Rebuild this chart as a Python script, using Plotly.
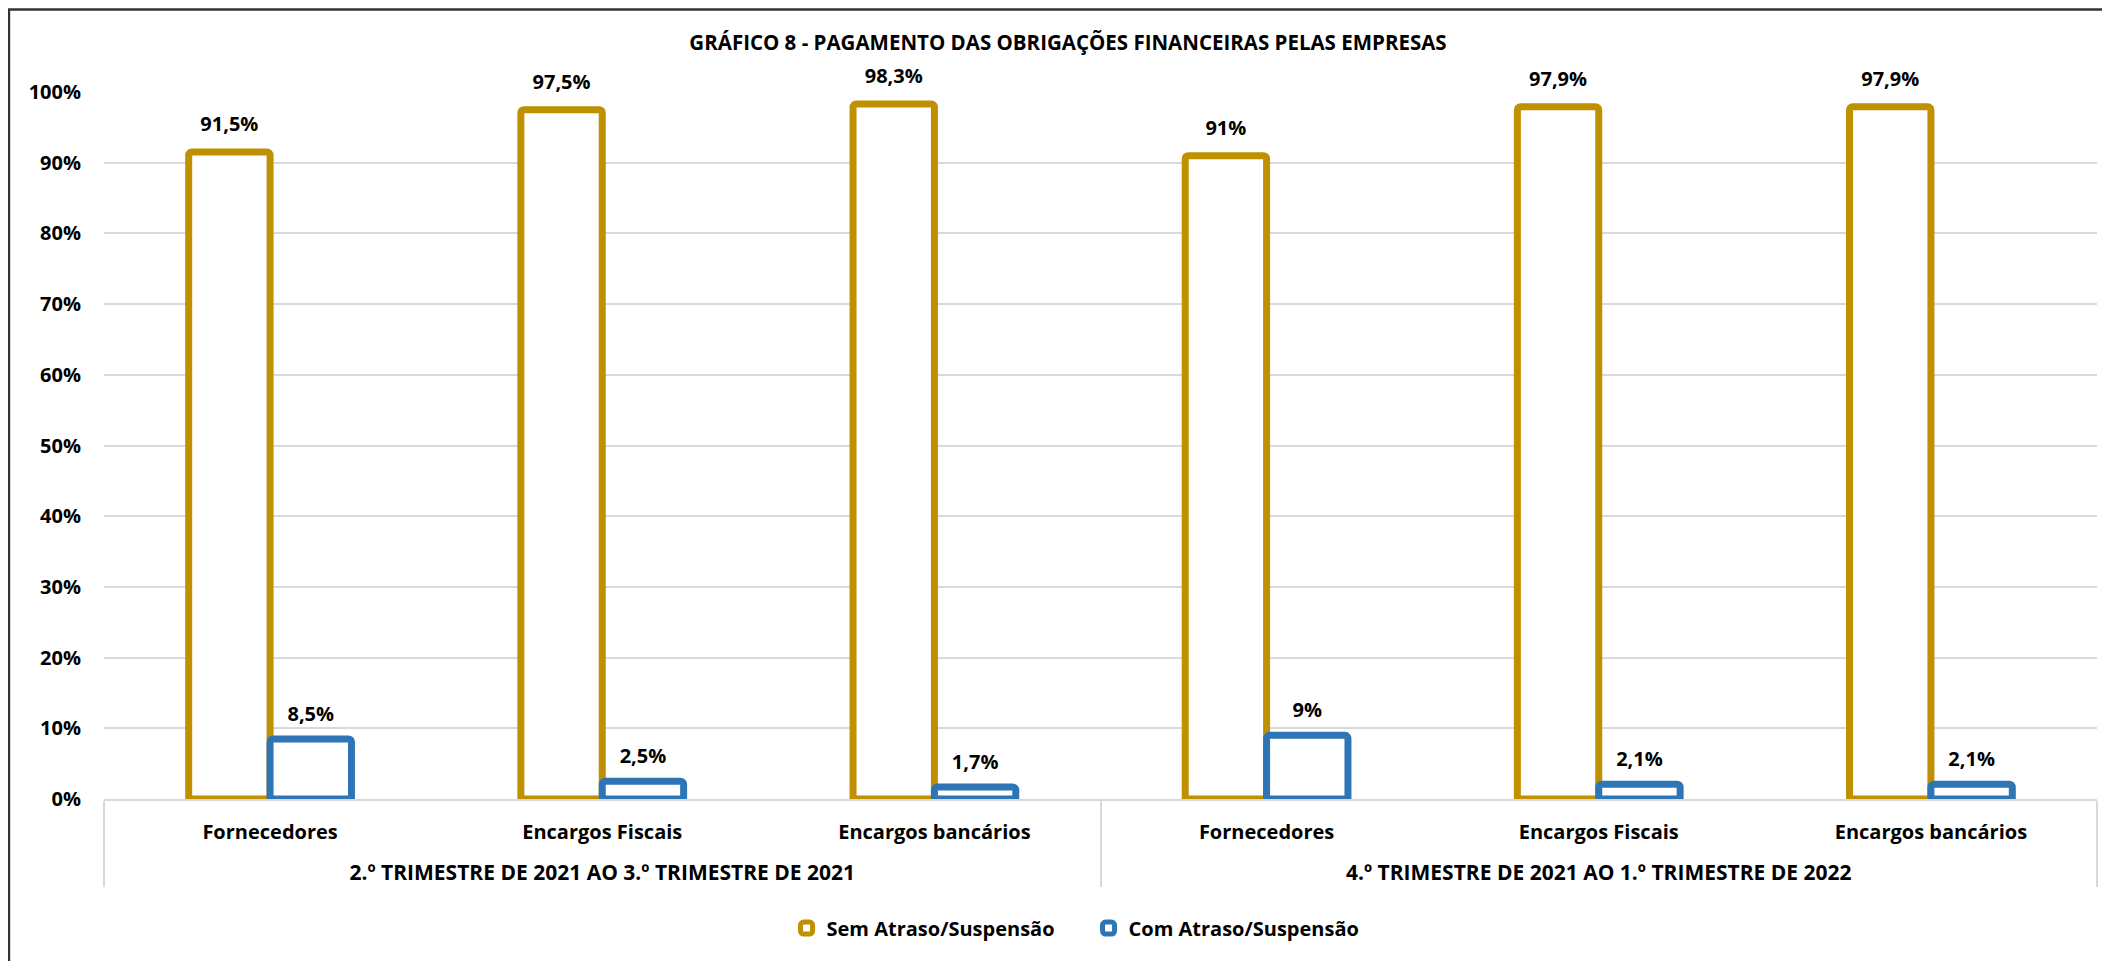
import plotly.graph_objects as go

# periods (outer level) and obligations (inner level)
periods = ["2.º TRIMESTRE DE 2021 AO 3.º TRIMESTRE DE 2021"] * 3 + \
          ["4.º TRIMESTRE DE 2021 AO 1.º TRIMESTRE DE 2022"] * 3
obligations = ["Fornecedores", "Encargos Fiscais", "Encargos bancários"] * 2

sem_atraso = [91.5, 97.5, 98.3, 91, 97.9, 97.9]
com_atraso = [8.5, 2.5, 1.7, 9, 2.1, 2.1]

series_names = ["Sem Atraso/Suspensão", "Com Atraso/Suspensão"]
y_ticks = list(range(0, 101, 10))

title_text = "GRÁFICO 8 - PAGAMENTO DAS OBRIGAÇÕES FINANCEIRAS PELAS EMPRESAS"

FONT = "'Open Sans', Lato, sans-serif"
FSIZE = 20
GOLD = "#BF9000"
BLUE = "#2E75B6"


def pct_label(v):
    # portuguese style: comma decimal, no trailing zero
    return f"{v:g}".replace(".", ",") + "%"


bold = dict(family=FONT, size=FSIZE, color="black", weight="bold")

# outer level pushed one line lower (and a bit larger) so it clears the inner labels
x_levels = [["<br><span style='font-size:21px'>" + p + "</span>" for p in periods],
            obligations]

fig = go.Figure()

series = [(series_names[0], sem_atraso, GOLD, 24),
          (series_names[1], com_atraso, BLUE, 19)]

for i, (name, values, color, _) in enumerate(series):
    fig.add_trace(go.Bar(
        name=name,
        x=x_levels,
        y=values,
        offsetgroup=str(i),
        marker=dict(color="white", line=dict(color=color, width=7), cornerradius=3),
        hoverinfo="skip",
    ))

# data labels, grouped the same way as the bars (invisible marker sets the gap)
for i, (name, values, color, pad) in enumerate(series):
    fig.add_trace(go.Scatter(
        x=x_levels,
        y=values,
        mode="markers+text",
        text=[pct_label(v) for v in values],
        textposition="top center",
        textfont=bold,
        marker=dict(size=pad, color="rgba(0,0,0,0)"),
        offsetgroup=str(i),
        cliponaxis=False,
        showlegend=False,
        hoverinfo="skip",
    ))

fig.update_layout(
    width=2102,
    height=953,
    paper_bgcolor="white",
    plot_bgcolor="white",
    barmode="group",
    bargap=0.51,
    bargroupgap=0,
    scattermode="group",
    scattergap=0.51,
    margin=dict(l=96, r=13, t=84, b=162),
    font=dict(family=FONT, size=FSIZE, color="black"),
    title=dict(
        text=f"<b>{title_text}</b>",
        x=0.4837, xref="paper", xanchor="center",
        y=1 - 35 / 953, yanchor="middle",
        font=dict(family=FONT, size=20.5, color="black", weight="bold"),
    ),
    legend=dict(
        orientation="h",
        x=0.494, xanchor="center",
        y=-0.1825, yanchor="middle",
        font=bold,
        itemwidth=30,
        entrywidth=257,
    ),
    shapes=[dict(
        type="rect", xref="paper", yref="paper",
        x0=-0.0477, x1=1.02, y0=-0.3, y1=1.1167,
        line=dict(color="#333333", width=2.5),
        fillcolor="rgba(0,0,0,0)",
        layer="below",
    )],
)

fig.update_yaxes(
    range=[0, 100],
    tickvals=y_ticks,
    ticktext=[f"{t}%" for t in y_ticks],
    showgrid=True,
    gridcolor="#D9D9D9",
    gridwidth=2,
    zeroline=False,
    showline=False,
    ticks="",
    ticklabelstandoff=22,
    tickfont=bold,
)

fig.update_xaxes(
    type="multicategory",
    showline=True,
    linecolor="#D9D9D9",
    linewidth=2,
    showgrid=False,
    ticks="",
    ticklabelstandoff=14,
    showdividers=True,
    dividercolor="#D9D9D9",
    dividerwidth=2,
    tickfont=bold,
)

fig.write_html("out.html")
